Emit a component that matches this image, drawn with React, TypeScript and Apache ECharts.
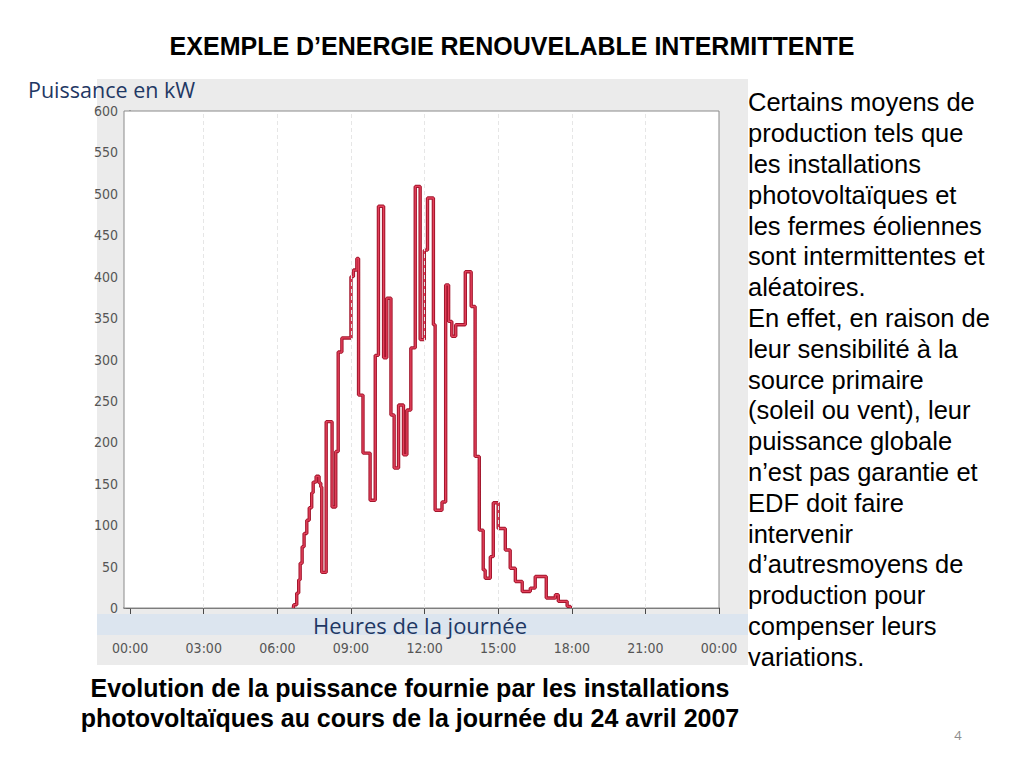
import React, { useEffect, useRef } from "react";
import * as echarts from "echarts";

// Time of day (hours) at which each power level starts (step chart)
const hours = [
  6.65, 6.67, 6.79, 6.87, 6.93, 7.01, 7.09, 7.2, 7.3, 7.4, 7.46, 7.58, 7.7, 7.77,
  7.81, 7.99, 8.23, 8.38, 8.48, 8.63, 9.0, 9.1, 9.24, 9.31, 9.49, 9.78, 9.99,
  10.12, 10.33, 10.46, 10.63, 10.76, 10.94, 11.14, 11.28, 11.44, 11.62, 11.82,
  11.99, 12.12, 12.36, 12.43, 12.71, 12.86, 12.98, 13.11, 13.27, 13.66, 13.9,
  14.06, 14.23, 14.39, 14.47, 14.68, 14.8, 15.0, 15.29, 15.49, 15.7, 15.98,
  16.31, 16.51, 16.96, 17.33, 17.45, 17.81, 17.94,
];
// Power in kW
const power = [
  0, 4, 18, 34, 54, 74, 90, 106, 121, 139, 152, 159, 151, 146,
  43, 225, 122, 189, 309, 326, 400, 408, 422, 257, 187, 130, 305,
  485, 302, 374, 233, 169, 245, 185, 239, 314, 509, 324,
  432, 495, 342, 118, 128, 390, 346, 328, 342, 406, 364,
  183, 94, 46, 36, 62, 127, 96, 70, 48, 32, 20,
  24, 38, 12, 16, 8, 2, 0,
];
const xLabelHours = [0, 3, 6, 9, 12, 15, 18, 21, 24];
const gridHours = [3, 6, 9, 12, 15, 18, 21];

const titleText = "EXEMPLE D\u2019ENERGIE RENOUVELABLE INTERMITTENTE";
const yAxisName = "Puissance en kW";
const xAxisName = "Heures de la journ\u00e9e";
const paragraphLines = [
  "Certains moyens de",
  "production tels que",
  "les installations",
  "photovolta\u00efques et",
  "les fermes \u00e9oliennes",
  "sont intermittentes et",
  "al\u00e9atoires.",
  "En effet, en raison de",
  "leur sensibilit\u00e9 \u00e0 la",
  "source primaire",
  "(soleil ou vent), leur",
  "puissance globale",
  "n\u2019est pas garantie et",
  "EDF doit faire",
  "intervenir",
  "d\u2019autresmoyens de",
  "production pour",
  "compenser leurs",
  "variations.",
];
const captionLines = [
  "Evolution de la puissance fournie par les installations",
  "photovolta\u00efques au cours de la journ\u00e9e du 24 avril 2007",
];
const pageNumber = "4";

const narrow = "'Liberation Sans Narrow', 'DejaVu Sans Condensed', 'Liberation Sans', sans-serif";
const arial = "'Liberation Sans', Arial, sans-serif";
const calibri = "'Open Sans', 'Noto Sans', sans-serif";

export default function App() {
  const ref = useRef<HTMLDivElement>(null);

  useEffect(() => {
    if (!ref.current) return;
    const chart = echarts.init(ref.current, undefined, { renderer: "svg" });
    const data = hours.map((h, i) => [h, power[i]]);

    chart.setOption({
      animation: false,
      backgroundColor: "#ffffff",
      grid: {
        left: 124,
        top: 111,
        width: 595,
        height: 497,
        show: true,
        backgroundColor: "#ffffff",
        borderColor: "#8a8a8a",
        borderWidth: 1,
        z: 1,
      },
      xAxis: {
        type: "value",
        min: -0.25,
        max: 24,
        axisLine: { show: true, lineStyle: { color: "#4a4a4a", width: 1.5 } },
        axisTick: {
          show: true,
          customValues: xLabelHours,
          length: 6,
          lineStyle: { color: "#4a4a4a", width: 1 },
        },
        axisLabel: {
          customValues: xLabelHours,
          margin: 33,
          color: "#555555",
          fontSize: 14,
          fontFamily: narrow,
          formatter: (v: number) => {
            const h = Math.round(v) % 24;
            return (h < 10 ? "0" + h : "" + h) + ":00";
          },
        },
        splitLine: { show: false },
      },
      yAxis: {
        type: "value",
        min: 0,
        max: 600,
        interval: 50,
        axisLine: { show: true, lineStyle: { color: "#4a4a4a", width: 1.5 } },
        axisTick: { show: true, length: 4, lineStyle: { color: "#4a4a4a" } },
        axisLabel: {
          margin: 6,
          color: "#555555",
          fontSize: 14,
          fontFamily: narrow,
        },
        splitLine: {
          show: true,
          lineStyle: { color: "#e2e2e2", type: [4, 3], width: 1 },
        },
      },
      series: [
        {
          type: "line",
          data: [],
          z: 1,
          silent: true,
          markLine: {
            silent: true,
            symbol: ["none", "none"],
            label: { show: false },
            lineStyle: { color: "#e6e6e6", type: [4, 3], width: 1 },
            data: gridHours.map((h) => ({ xAxis: h })),
          },
        },
        {
          type: "line",
          step: "end",
          data,
          showSymbol: false,
          z: 3,
          lineStyle: { color: "#a3172d", width: 3.4 },
        },
        {
          type: "line",
          step: "end",
          data,
          showSymbol: false,
          z: 4,
          lineStyle: { color: "#e4405b", width: 1.3 },
        },
      ],
      graphic: [
        {
          type: "rect",
          z: -100,
          shape: { x: 97, y: 79, width: 651, height: 586 },
          style: { fill: "#ebebeb" },
        },
        {
          type: "rect",
          z: 50,
          shape: { x: 97, y: 614, width: 651, height: 21 },
          style: { fill: "#dce5ef" },
        },
        {
          type: "text",
          z: 60,
          x: 420,
          y: 625,
          style: {
            text: xAxisName,
            fill: "#1f3864",
            font: `22px ${calibri}`,
            textAlign: "center",
            textVerticalAlign: "middle",
          },
        },
        {
          type: "text",
          z: 60,
          x: 28,
          y: 89,
          style: {
            text: yAxisName,
            fill: "#1f3864",
            font: `21.5px ${calibri}`,
            textAlign: "left",
            textVerticalAlign: "middle",
          },
        },
        {
          type: "text",
          z: 60,
          x: 512,
          y: 46,
          style: {
            text: titleText,
            fill: "#000000",
            font: `bold 25px ${arial}`,
            textAlign: "center",
            textVerticalAlign: "middle",
          },
        },
        {
          type: "text",
          z: 60,
          x: 748,
          y: 87,
          style: {
            text: paragraphLines.join("\n"),
            fill: "#000000",
            font: `25.5px ${arial}`,
            lineHeight: 30.8,
            textAlign: "left",
            textVerticalAlign: "top",
          },
        },
        {
          type: "text",
          z: 60,
          x: 410,
          y: 673,
          style: {
            text: captionLines.join("\n"),
            fill: "#000000",
            font: `bold 25px ${arial}`,
            lineHeight: 30,
            textAlign: "center",
            textVerticalAlign: "top",
          },
        },
        {
          type: "text",
          z: 60,
          x: 958,
          y: 735,
          style: {
            text: pageNumber,
            fill: "#8c8c8c",
            font: `13px ${calibri}`,
            textAlign: "center",
            textVerticalAlign: "middle",
          },
        },
      ],
    });

    return () => chart.dispose();
  }, []);

  return (
    <div
      ref={ref}
      style={{ position: "absolute", left: 0, top: 0, width: 1024, height: 768 }}
    />
  );
}
